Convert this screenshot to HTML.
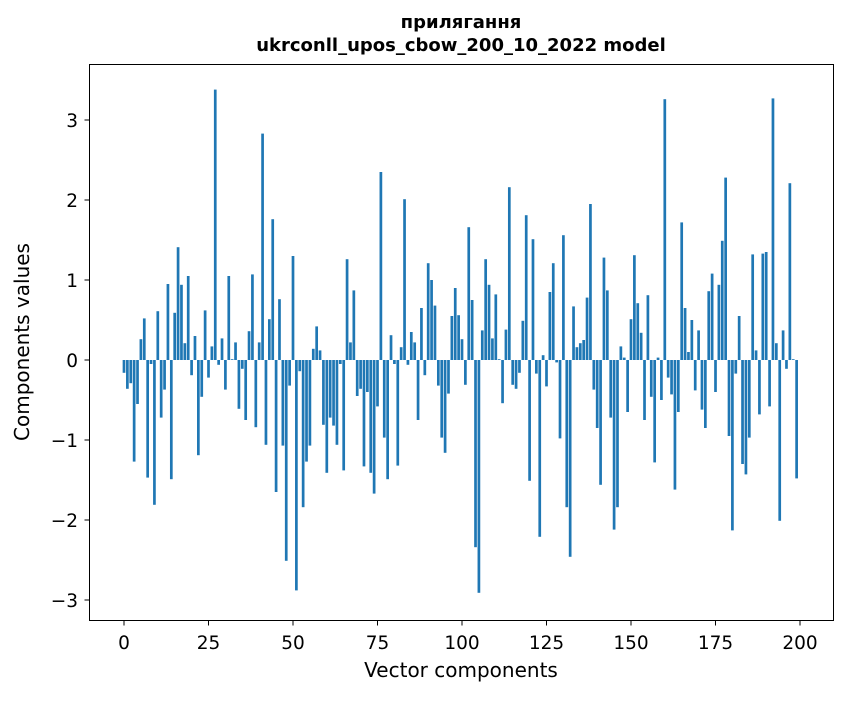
<!DOCTYPE html>
<html><head><meta charset="utf-8"><style>
body{margin:0;background:#fff;}
svg text{font-family:"DejaVu Sans","Liberation Sans",sans-serif;fill:#000;}
</style></head><body>
<svg id="chart" width="847" height="696" xmlns="http://www.w3.org/2000/svg">
<rect width="847" height="696" fill="#fff"/>
<text x="461" y="28" font-size="18" font-weight="bold" text-anchor="middle">прилягання</text>
<text x="461" y="51" font-size="18" font-weight="bold" text-anchor="middle">ukrconll_upos_cbow_200_10_2022 model</text>
<g id="bars"></g>
<rect x="89.5" y="64.5" width="744" height="556" fill="none" stroke="#000" stroke-width="1"/>
<g id="xticks"></g>
<g id="yticks"></g>
<text x="461" y="677" font-size="20" text-anchor="middle">Vector components</text>
<text transform="translate(29,342) rotate(-90)" font-size="20" text-anchor="middle">Components values</text>
</svg>
<script>
const values = [-0.16,-0.36,-0.29,-1.27,-0.55,0.26,0.52,-1.47,-0.05,-1.81,
0.61,-0.72,-0.37,0.95,-1.49,0.59,1.41,0.94,0.21,1.05,
-0.19,0.30,-1.19,-0.46,0.62,-0.22,0.17,3.38,-0.06,0.27,
-0.37,1.05,0.01,0.22,-0.61,-0.11,-0.75,0.36,1.07,-0.84,
0.22,2.83,-1.06,0.51,1.76,-1.65,0.76,-1.07,-2.51,-0.32,
1.30,-2.88,-0.14,-1.84,-1.27,-1.07,0.14,0.42,0.12,-0.81,
-1.41,-0.72,-0.82,-1.06,-0.05,-1.38,1.26,0.22,0.87,-0.45,
-0.36,-1.33,-0.40,-1.41,-1.67,-0.58,2.35,-0.97,-1.49,0.31,
-0.05,-1.32,0.16,2.01,-0.06,0.35,0.22,-0.75,0.65,-0.19,
1.21,1.00,0.68,-0.32,-0.97,-1.16,-0.42,0.55,0.90,0.56,
0.26,-0.31,1.66,0.75,-2.34,-2.91,0.37,1.26,0.94,0.27,
0.82,0.01,-0.54,0.38,2.16,-0.31,-0.36,-0.16,0.49,1.81,
-1.51,1.51,-0.17,-2.21,0.06,-0.33,0.85,1.21,-0.03,-0.98,
1.56,-1.84,-2.46,0.67,0.16,0.21,0.25,0.78,1.95,-0.37,
-0.85,-1.56,1.28,0.87,-0.72,-2.12,-1.84,0.17,0.03,-0.65,
0.51,1.31,0.71,0.34,-0.75,0.81,-0.46,-1.28,0.03,-0.50,
3.26,-0.22,-0.43,-1.62,-0.65,1.72,0.65,0.10,0.50,-0.38,
0.37,-0.62,-0.85,0.86,1.08,-0.40,0.94,1.49,2.28,-0.95,
-2.13,-0.17,0.55,-1.30,-1.43,-0.97,1.32,0.12,-0.68,1.33,
1.35,-0.58,3.27,0.21,-2.01,0.37,-0.11,2.21,0.01,-1.48];
const xTickLabels = [0,25,50,75,100,125,150,175,200];
const yTickLabels = [-3,-2,-1,0,1,2,3];

const NS="http://www.w3.org/2000/svg";
const xScale = v => 124 + (800-124)*v/200;
const yScale = v => 360 - 80*v;
const bw = (800-124)/200*0.8;
const gb=document.getElementById('bars');
values.forEach((v,i)=>{
  const r=document.createElementNS(NS,'rect');
  
  
  const y0=yScale(0), y1=yScale(v);
  r.setAttribute('x',xScale(i)-bw/2);
  r.setAttribute('y',Math.min(y0,y1));
  r.setAttribute('width',bw);
  r.setAttribute('height',Math.abs(y1-y0));
  r.setAttribute('fill','#1f77b4');
  gb.appendChild(r);
});
const gx=document.getElementById('xticks');
xTickLabels.forEach(t=>{
  const x=xScale(t);
  const l=document.createElementNS(NS,'line');
  
  
  l.setAttribute('x1',x);l.setAttribute('x2',x);l.setAttribute('y1',620.5);l.setAttribute('y2',625.5);
  l.setAttribute('stroke','#000');
  gx.appendChild(l);
  const tx=document.createElementNS(NS,'text');
  
  
  tx.setAttribute('x',x);tx.setAttribute('y',649);
  tx.setAttribute('font-size','18.5');tx.setAttribute('text-anchor','middle');
  tx.textContent=t;
  gx.appendChild(tx);
});
const gy=document.getElementById('yticks');
yTickLabels.forEach(t=>{
  const y=yScale(t);
  const l=document.createElementNS(NS,'line');
  
  
  l.setAttribute('x1',84.5);l.setAttribute('x2',89.5);l.setAttribute('y1',y);l.setAttribute('y2',y);
  l.setAttribute('stroke','#000');
  gy.appendChild(l);
  const tx=document.createElementNS(NS,'text');
  
  
  tx.setAttribute('x',78);tx.setAttribute('y',y+7);
  tx.setAttribute('font-size','18.5');tx.setAttribute('text-anchor','end');
  tx.textContent=t<0?'\u2212'+Math.abs(t):String(t);
  gy.appendChild(tx);
});
</script>
</body></html>
